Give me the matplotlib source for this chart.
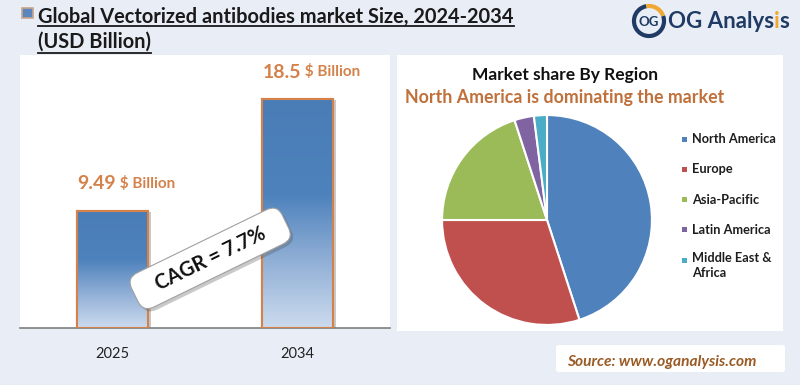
import numpy as np
import matplotlib
matplotlib.use("Agg")
import matplotlib.pyplot as plt
import matplotlib.patheffects as pe
from matplotlib.colors import LinearSegmentedColormap
from matplotlib.patches import Rectangle, FancyBboxPatch, Arc
from matplotlib.lines import Line2D

plt.rcParams['font.family'] = ['Lato', 'DejaVu Sans']

# data
years = ['2025', '2034']
market_size = [9.49, 18.5]
cagr = '7.7%'
regions = ['North America', 'Europe', 'Asia-Pacific', 'Latin America', 'Middle East &\nAfrica']
region_share = [45, 30, 20, 3, 2]
region_colors = ['#4F81BD', '#C0504D', '#9BBB59', '#8064A2', '#4BACC6']

W, H = 800, 385
BG = '#E9EEF6'
ORANGE = '#D4814A'
NAVY = '#1F3A64'


def fx(px):
    return px / W


def fy(py):
    return 1 - py / H


fig = plt.figure(figsize=(W / 100, H / 100), dpi=100, facecolor=BG)

# ---- title -------------------------------------------------------------
fig.add_artist(Rectangle((fx(22), fy(18)), 11 / W, 10 / H, transform=fig.transFigure,
                         facecolor='#5A86BD', edgecolor='#C8A58C', lw=1.2))
t1 = fig.text(fx(38), fy(23), 'Global Vectorized antibodies market Size, 2024-2034',
              fontsize=14.4, fontweight='bold', color='#1A1A1A', va='baseline')
t2 = fig.text(fx(38), fy(48), '(USD Billion)',
              fontsize=14.4, fontweight='bold', color='#1A1A1A', va='baseline')

# ---- logo --------------------------------------------------------------
ax_logo = fig.add_axes([fx(631), fy(39), 36 / W, 36 / H])
ax_logo.set_xlim(-1.2, 1.2)
ax_logo.set_ylim(-1.2, 1.2)
ax_logo.set_aspect('equal')
ax_logo.axis('off')
ax_logo.add_patch(Arc((0, 0), 2, 2, theta1=100, theta2=380, color=NAVY, lw=3))
ax_logo.add_patch(Arc((0, 0), 2, 2, theta1=20, theta2=100, color='#F0A830', lw=3))
ax_logo.text(0, -0.05, 'OG', ha='center', va='center', fontsize=9.5, fontweight='bold', color=NAVY)
lg = fig.text(fx(668), fy(22), 'OG Analys', fontsize=16, fontweight='bold', color=NAVY, va='center')
lg_i = plt.annotate('i', xy=(1, 0), xycoords=lg, va='bottom', fontsize=16,
                    fontweight='bold', color='#F0A830')
plt.annotate('s', xy=(1, 0), xycoords=lg_i, va='bottom', fontsize=16,
             fontweight='bold', color=NAVY)

# ---- left panel: bars --------------------------------------------------
ax = fig.add_axes([fx(20), fy(328), 370 / W, 273 / H])
ax.set_facecolor('white')
x = np.arange(len(years))
bw = 0.38
bars = ax.bar(x, market_size, bw, facecolor='white', edgecolor=ORANGE, lw=1.5, zorder=1,
              path_effects=[pe.SimplePatchShadow(offset=(2.5, -1), shadow_rgbFace='#888888', alpha=0.45),
                            pe.Normal()])
cmap = LinearSegmentedColormap.from_list('bar', [(0, '#4A7DB6'), (0.42, '#4E82BC'), (0.72, '#93B1D7'), (1, '#CCDBEE')])
grad = np.linspace(0, 1, 256).reshape(-1, 1)
for b in bars:
    x0, w, h = b.get_x(), b.get_width(), b.get_height()
    im = ax.imshow(grad, cmap=cmap, extent=(x0, x0 + w, 0, h), origin='upper',
                   aspect='auto', zorder=2)
    im.set_clip_path(b)
ax.bar(x, market_size, bw, fill=False, edgecolor=ORANGE, lw=1.5, zorder=3)
ax.set_xlim(-0.5, 1.5)
ax.set_ylim(0, 22.05)
for s in ['top', 'right', 'left']:
    ax.spines[s].set_visible(False)
ax.spines['bottom'].set_color('#7F7F7F')
ax.spines['bottom'].set_linewidth(1.2)
ax.set_yticks([])
ax.set_xticks(x)
ax.set_xticklabels(years, fontsize=10.5, color='#222222')
ax.tick_params(axis='x', length=0, pad=14)

for b, v in zip(bars, market_size):
    num = ax.annotate(f'{v:g}', xy=(b.get_x(), v), xytext=(0, 13), textcoords='offset points',
                      fontsize=14, fontweight='bold', color=ORANGE, ha='left', va='bottom')
    ax.annotate(r' \$ Billion', xy=(1, 0.1), xycoords=num, fontsize=11, fontweight='bold',
                color=ORANGE, ha='left', va='bottom')

ct = ax.text(0.514, 0.255, f'   CAGR = {cagr}   ', transform=ax.transAxes, rotation=26,
             rotation_mode='anchor', ha='center', va='center', fontsize=14.5, fontweight='bold',
             color='#111111', zorder=5,
             bbox=dict(boxstyle='round,pad=0.45,rounding_size=0.6', fc='white', ec='#A0A0A0', lw=0.8))
ct.get_bbox_patch().set_path_effects([pe.SimplePatchShadow(offset=(2, -2), alpha=0.3), pe.Normal()])

# ---- right panel: pie --------------------------------------------------
fig.add_artist(Rectangle((fx(397), fy(331)), 386 / W, 276 / H, transform=fig.transFigure,
                         facecolor='white', edgecolor='none', zorder=0))
fig.text(fx(565), fy(75), 'Market share By Region', ha='center', va='center',
         fontsize=12.5, fontweight='bold', color='#111111')
fig.text(fx(565), fy(97), 'North America is dominating the market', ha='center', va='center',
         fontsize=12.8, fontweight='bold', color='#C0703A')

axp = fig.add_axes([fx(441), fy(326), 212 / W, 212 / H])
axp.pie(region_share, colors=region_colors, startangle=90, counterclock=False,
        wedgeprops=dict(edgecolor='white', linewidth=1.5))
axp.set_xlim(-1.01, 1.01)
axp.set_ylim(-1.01, 1.01)
axp.set_aspect('equal')

ly = 139
for name, col in zip(regions, region_colors):
    fig.add_artist(Rectangle((fx(682), fy(ly + 2.5)), 5 / W, 5 / H, transform=fig.transFigure,
                             facecolor=col, edgecolor='none'))
    fig.text(fx(692), fy(ly), name, fontsize=9.2, fontweight='bold', color='#1E1E1E',
             va='top' if '\n' in name else 'center', linespacing=1.25,
             position=(fx(692), fy(ly - 8)) if '\n' in name else (fx(692), fy(ly)))
    ly += 30.3

# ---- source ------------------------------------------------------------
fig.add_artist(FancyBboxPatch((fx(556), fy(372)), 229 / W, 27 / H, transform=fig.transFigure,
                              boxstyle='round,pad=0,rounding_size=0.005', facecolor='white',
                              edgecolor='none'))
fig.text(fx(567), fy(362), 'Source: www.oganalysis.com', fontsize=11.2, fontweight='bold',
         fontstyle='italic', color='#9A5A24', va='center')

# underline the title
fig.canvas.draw()
r = fig.canvas.get_renderer()
for t, uy in [(t1, 25.5), (t2, 52.5)]:
    bb = t.get_window_extent(r)
    fig.add_artist(Line2D([bb.x0 / W, bb.x1 / W], [fy(uy), fy(uy)], transform=fig.transFigure,
                          color='#1A1A1A', lw=1.3))

fig.savefig('out.png', dpi=100, facecolor=BG)
